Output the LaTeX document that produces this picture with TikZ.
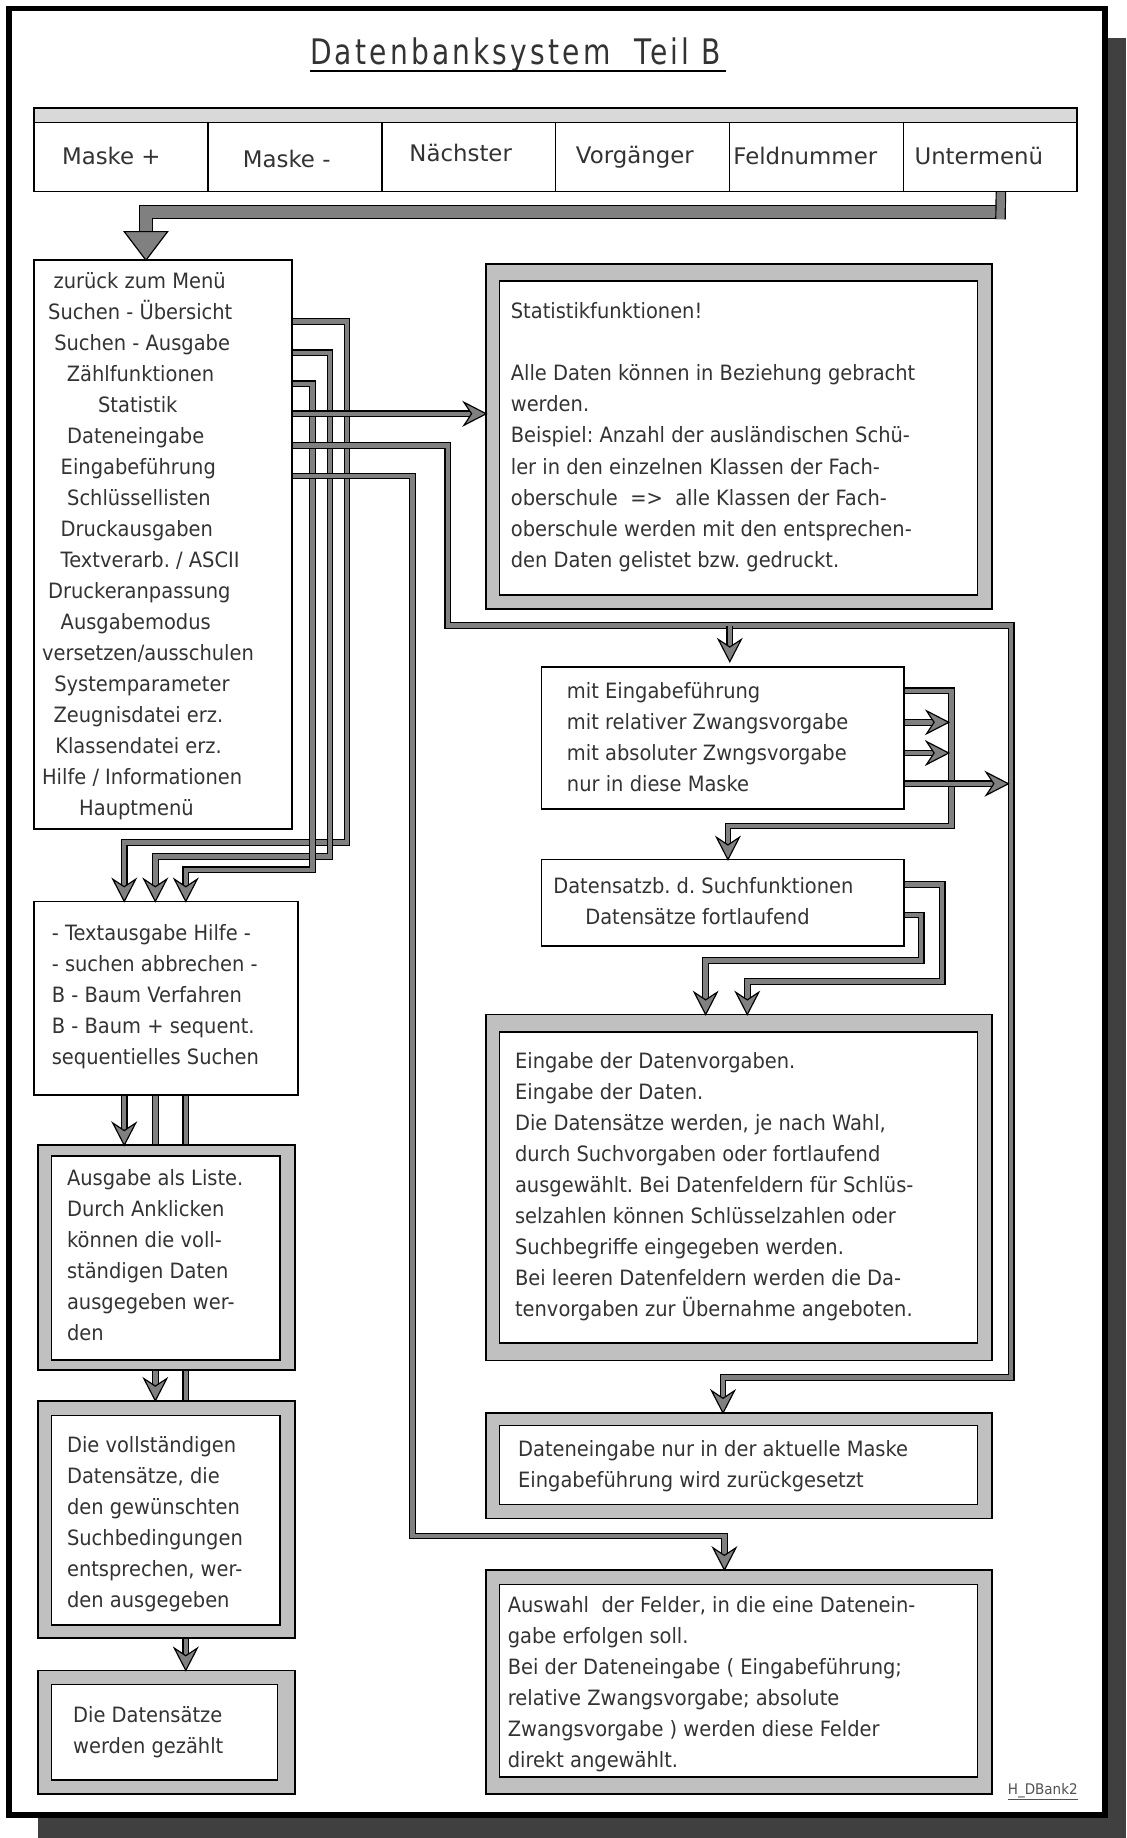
\documentclass[tikz,border=0pt]{standalone}
\usepackage{fontspec}
\setmainfont{DejaVu Sans}
\newfontfamily\bodyfont[FakeStretch=0.922]{DejaVu Sans}
\newfontfamily\barfont{DejaVu Sans}
\newfontfamily\titlefont[FakeStretch=0.8,LetterSpace=9]{DejaVu Sans}
\usetikzlibrary{calc}

\definecolor{pipegray}{HTML}{808080}
\definecolor{bandgray}{HTML}{C0C0C0}
\definecolor{stripgray}{HTML}{D9D9D9}
\definecolor{shadowgray}{HTML}{404040}
\definecolor{ink}{HTML}{333333}

\pgfdeclarelayer{frame}
\pgfdeclarelayer{pipes}
\pgfsetlayers{frame,pipes,main}

\tikzset{
  boxline/.style={draw=black, line width=1.4pt, inner sep=0pt, outer sep=0pt},
  plainbox/.style={boxline, fill=white},
  bandbox/.style={boxline, fill=bandgray},
  stripbox/.style={boxline, fill=stripgray},
  bodytext/.style={inner sep=0pt, outer sep=0pt, anchor=north west, align=left,
    text=ink, font=\bodyfont\fontsize{18}{26.45}\selectfont\frenchspacing},
  bartext/.style={inner sep=0pt, anchor=base, text=ink,
    font=\barfont\fontsize{19.5}{24}\selectfont},
  pipe/.style={draw=black, line width=1pt, double=pipegray, double distance=3.8pt, line join=miter},
  bigpipe/.style={draw=black, line width=1pt, double=pipegray, double distance=10pt, line join=miter},
  stubpipe/.style={draw=black, line width=1pt, double=pipegray, double distance=7pt},
  arrhead/.pic={\filldraw[fill=pipegray, draw=black, line width=1pt, line join=miter]
    (0,0) -- (-19,9.8) -- (-12.5,0) -- (-19,-9.8) -- cycle;},
}

% box from its corners: [style]{name}{x1}{y1}{x2}{y2}
\newcommand\boxnode[6][plainbox]{%
  \node[#1, anchor=north west, minimum width={(#5)-(#3)}, minimum height={(#6)-(#4)}] (#2) at (#3,#4) {};}

\begin{document}
\begin{tikzpicture}[x=1pt, y=-1pt]
\useasboundingbox (0,0) rectangle (961,1568);

% page with drop shadow
\begin{pgfonlayer}{frame}
  \fill[shadowgray] (32,32.7) rectangle (961,1568);
  \draw[line width=5pt, fill=white] (8,7.2) rectangle (942.8,1548.5);
\end{pgfonlayer}

% title
\node[inner sep=0pt, anchor=base, text=ink, font=\titlefont\fontsize{30}{36}\selectfont]
  (title) at (439.8,55.4) {Datenbanksystem\ \ Teil B};
\draw[line width=2.4pt] ($(title.base west)+(0,5.2)$) -- ($(title.base east)+(4,5.2)$);

% menu bar
\boxnode[stripbox]{strip}{29}{92.4}{919}{104.6}
\boxnode{b1}{29}{104.6}{177.3}{163.5}
\boxnode{b2}{177.3}{104.6}{325.7}{163.5}
\boxnode{b3}{325.7}{104.6}{474}{163.5}
\boxnode{b4}{474}{104.6}{622.3}{163.5}
\boxnode{b5}{622.3}{104.6}{770.7}{163.5}
\boxnode{b6}{770.7}{104.6}{919}{163.5}
\node[bartext] (l1) at (95,140.6) {Maske +};
\node[bartext] (l2) at (244.6,142.9) {Maske -};
\node[bartext] (l3) at (393,137.8) {Nächster};
\node[bartext] (l4) at (541.6,139.2) {Vorgänger};
\node[bartext] (l5) at (687,140) {Feldnummer};
\node[bartext] (l6) at (835,140.6) {Untermenü};

% boxes
\boxnode{menu}{29}{222}{249}{707}
\boxnode[bandbox]{stat}{414.8}{225}{846}{519.6}
\boxnode{stat-in}{426}{239.6}{834}{507.4}
\boxnode{eing}{462}{569}{771.3}{690}
\boxnode{dsb}{462}{733.3}{771.3}{807.2}
\boxnode[bandbox]{dvg}{414.8}{865.5}{846}{1160.6}
\boxnode{dvg-in}{426}{880.3}{834}{1145.5}
\boxnode[bandbox]{dnur}{414.8}{1205.4}{846}{1295.3}
\boxnode{dnur-in}{426}{1216}{834}{1283.4}
\boxnode[bandbox]{ausw}{414.8}{1339.4}{846}{1530.4}
\boxnode{ausw-in}{426}{1351.6}{834}{1515.9}
\boxnode{texta}{29}{769}{254}{934}
\boxnode[bandbox]{liste}{32.6}{977}{251.5}{1169}
\boxnode{liste-in}{44}{986}{239}{1160.3}
\boxnode[bandbox]{voll}{32.6}{1195}{251.5}{1397.6}
\boxnode{voll-in}{44}{1207.5}{239}{1386}
\boxnode[bandbox]{gez}{32.6}{1425}{251.5}{1530.7}
\boxnode{gez-in}{44}{1437}{236.6}{1518.7}

% texts
\node[bodytext] (menu-t) at (35.9,227.2) {\strut\kern9.8pt zurück zum Menü\\
\kern5.2pt Suchen - Übersicht\\
\kern10.4pt Suchen - Ausgabe\\
\kern21.1pt Zählfunktionen\\
\kern47.8pt Statistik\\
\kern21.4pt Dateneingabe\\
\kern15.9pt Eingabeführung\\
\kern21.4pt Schlüssellisten\\
\kern15.9pt Druckausgaben\\
\kern15.9pt Textverarb. / ASCII\\
\kern5.2pt Druckeranpassung\\
\kern15.9pt Ausgabemodus\\
versetzen/ausschulen\\
\kern10.4pt Systemparameter\\
\kern9.8pt Zeugnisdatei erz.\\
\kern11.3pt Klassendatei erz.\\
Hilfe / Informationen\\
\kern31.7pt Hauptmenü};

\node[bodytext] (stat-t) at (435.8,253.6) {\strut Statistikfunktionen!\\[26.45pt]
Alle Daten können in Beziehung gebracht\\
werden.\\
Beispiel: Anzahl der ausländischen Schü-\\
ler in den einzelnen Klassen der Fach-\\
oberschule\ \ =>\ \ alle Klassen der Fach-\\
oberschule werden mit den entsprechen-\\
den Daten gelistet bzw. gedruckt.};

\node[bodytext] (eing-t) at (483.7,577) {\strut mit Eingabeführung\\
mit relativer Zwangsvorgabe\\
mit absoluter Zwngsvorgabe\\
nur in diese Maske};

\node[bodytext] (dsb-t) at (472,743.8) {\strut Datensatzb. d. Suchfunktionen\\
\kern27.3pt Datensätze fortlaufend};

\node[bodytext] (dvg-t) at (439.4,893.1) {\strut Eingabe der Datenvorgaben.\\
Eingabe der Daten.\\
Die Datensätze werden, je nach Wahl,\\
durch Suchvorgaben oder fortlaufend\\
ausgewählt. Bei Datenfeldern für Schlüs-\\
selzahlen können Schlüsselzahlen oder\\
Suchbegriffe eingegeben werden.\\
Bei leeren Datenfeldern werden die Da-\\
tenvorgaben zur Übernahme angeboten.};

\node[bodytext] (dnur-t) at (442,1224.3) {\strut Dateneingabe nur in der aktuelle Maske\\
Eingabeführung wird zurückgesetzt};

\node[bodytext] (ausw-t) at (433.2,1357.3) {\strut Auswahl\ \ der Felder, in die eine Datenein-\\
gabe erfolgen soll.\\
Bei der Dateneingabe ( Eingabeführung;\\
relative Zwangsvorgabe; absolute\\
Zwangsvorgabe ) werden diese Felder\\
direkt angewählt.};

\node[bodytext] (texta-t) at (44.2,783.7) {\strut - Textausgabe Hilfe -\\
- suchen abbrechen -\\
B - Baum Verfahren\\
B - Baum + sequent.\\
sequentielles Suchen};

\node[bodytext] (liste-t) at (57.2,992.4) {\strut Ausgabe als Liste.\\
Durch Anklicken\\
können die voll-\\
ständigen Daten\\
ausgegeben wer-\\
den};

\node[bodytext] (voll-t) at (57.2,1220.8) {\strut Die vollständigen\\
Datensätze, die\\
den gewünschten\\
Suchbedingungen\\
entsprechen, wer-\\
den ausgegeben};

\node[bodytext] (gez-t) at (62.4,1451.1) {\strut Die Datensätze\\
werden gezählt};

\node[inner sep=0pt, anchor=base, text=ink!85, font=\bodyfont\fontsize{12.5}{15}\selectfont]
  (ref) at (889.6,1530.8) {\underline{H\_DBank2}};

% arrow tips
\coordinate (a1) at (texta.north -| 106,0);
\coordinate (a2) at (texta.north -| 132.5,0);
\coordinate (a3) at (texta.north -| 158.5,0);
\coordinate (a4) at (liste.north -| 106,0);
\coordinate (a5) at (voll.north -| 132.5,0);
\coordinate (a6) at (gez.north -| 158.5,0);
\coordinate (a7) at (stat.west |- 0,353);
\coordinate (a8) at (eing.north -| 622.6,0);
\coordinate (a9) at (dsb.north -| 621,0);
\coordinate (a10) at (809.4,616.2);
\coordinate (a11) at (809.4,642.4);
\coordinate (a12) at (860.3,668.6);
\coordinate (a13) at (dvg.north -| 602,0);
\coordinate (a14) at (dvg.north -| 637.5,0);
\coordinate (a15) at (dnur.north -| 616.8,0);
\coordinate (a16) at (ausw.north -| 618,0);
\coordinate (j1) at (622.6,533.8);

% connectors
\begin{pgfonlayer}{pipes}
  % Untermenü back to the menu
  \draw[bigpipe] (858,181) -- (124.5,181) -- (124.5,199);
  \draw[stubpipe] ($(b6.south)+(9,0)$) -- (853.5,187);

  % menu entries to the search-help box
  \draw[pipe] (menu.east |- 0,274.4) -- (296,274.4) -- (296,718.7) -- (106,718.7) -- ([yshift=12.5pt]a1);
  \draw[pipe] (menu.east |- 0,301) -- (281.5,301) -- (281.5,730.5) -- (132.5,730.5) -- ([yshift=12.5pt]a2);
  \draw[pipe] (menu.east |- 0,327.5) -- (266.5,327.5) -- (266.5,742) -- (158.5,742) -- ([yshift=12.5pt]a3);

  % left column chain
  \draw[pipe] (texta.south -| 106,0) -- ([yshift=12.5pt]a4);
  \draw[pipe] (texta.south -| 132.5,0) -- (liste.north -| 132.5,0);
  \draw[pipe] (texta.south -| 158.5,0) -- (liste.north -| 158.5,0);
  \draw[pipe] (liste.south -| 132.5,0) -- ([yshift=12.5pt]a5);
  \draw[pipe] (liste.south -| 158.5,0) -- (voll.north -| 158.5,0);
  \draw[pipe] (voll.south -| 158.5,0) -- ([yshift=12.5pt]a6);

  % Statistik
  \draw[pipe] (menu.east |- 0,353) -- ([xshift=-12.5pt]a7);

  % Dateneingabe
  \draw[pipe] (menu.east |- 0,380) -- (382,380) -- (382,533.8) -- (862.6,533.8) -- (862.6,1175)
    -- (616.8,1175) -- ([yshift=12.5pt]a15);
  \draw[pipe] (j1) -- ([yshift=17pt]a8);

  % Eingabeführung
  \draw[pipe] (menu.east |- 0,406) -- (352,406) -- (352,1310.4) -- (618,1310.4) -- ([yshift=12.5pt]a16);

  % input modes
  \draw[pipe] (eing.east |- 0,589.4) -- (811.8,589.4) -- (811.8,704.6) -- (621,704.6) -- ([yshift=12.5pt]a9);
  \draw[pipe] (eing.east |- 0,616.2) -- ([xshift=-12.5pt]a10);
  \draw[pipe] (eing.east |- 0,642.4) -- ([xshift=-12.5pt]a11);
  \draw[pipe] (eing.east |- 0,668.6) -- ([xshift=-12.5pt]a12);

  % record selection
  \draw[pipe] (dsb.east |- 0,754.4) -- (803.8,754.4) -- (803.8,837.4) -- (637.5,837.4) -- ([yshift=12.5pt]a14);
  \draw[pipe] (dsb.east |- 0,780.5) -- (785.9,780.5) -- (785.9,819.5) -- (602,819.5) -- ([yshift=12.5pt]a13);
\end{pgfonlayer}

% big head into the menu
\filldraw[fill=pipegray, draw=black, line width=1pt] (106,197.6) -- (143,197.6) -- (menu.north -| 124.5,0) -- cycle;

% arrow heads
\foreach \t in {a1,a2,a3,a4,a5,a6,a9,a13,a14,a15,a16}
  \pic[rotate=-90] at (\t) {arrhead};
\pic[rotate=-90] at ([yshift=4.5pt]a8) {arrhead};
\foreach \t in {a7,a10,a11,a12}
  \pic at (\t) {arrhead};

\end{tikzpicture}
\end{document}
